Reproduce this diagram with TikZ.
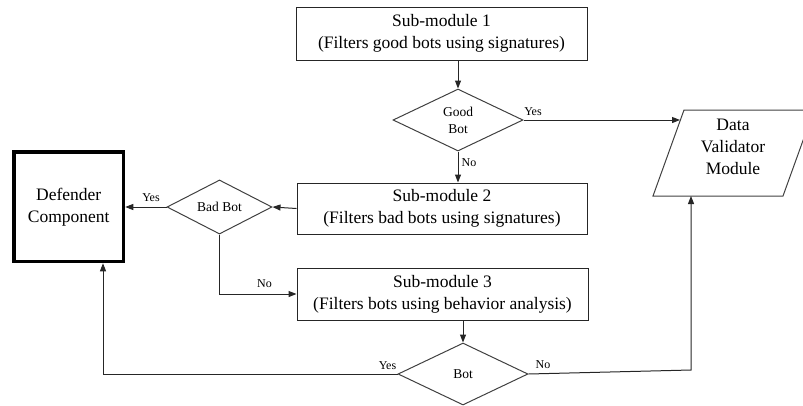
\documentclass[tikz,border=0pt]{standalone}
\usepackage{fontspec}
\setmainfont{Liberation Serif}
\usetikzlibrary{shapes.geometric,arrows.meta}
\begin{document}
\begin{tikzpicture}[x=1pt,y=-1pt,
  every node/.style={text=black},
  box/.style={draw=black!85,line width=1pt,inner sep=0pt,align=center,
    font=\fontsize{17.5}{22}\selectfont},
  dec/.style={draw=black!75,line width=1pt,shape=diamond,inner sep=0pt,align=center,
    font=\fontsize{13.5}{17}\selectfont},
  lbl/.style={inner sep=0pt,font=\fontsize{12}{14}\selectfont},
  arr/.style={draw=black!85,line width=1pt,-{Triangle[length=8pt,width=6pt]}},
  ln/.style={draw=black!85,line width=1pt}]
\useasboundingbox (0,0) rectangle (803,405);
\begin{scope}
\clip (0,0) rectangle (803,405);
% boxes
\node[box,minimum width=291,minimum height=53] (s1) at (441.5,33.5)
  {Sub-module 1\\(Filters good bots using signatures)};
\node[box,minimum width=290,minimum height=51] (s2) at (442,208.5)
  {Sub-module 2\\(Filters bad bots using signatures)};
\node[box,minimum width=291,minimum height=52] (s3) at (442.5,294)
  {Sub-module 3\\(Filters bots using behavior analysis)};
\node[box,line width=3.5pt,draw=black,minimum width=109.5,minimum height=109.5] (def) at (68.75,206.75)
  {Defender\\Component};
% decisions
\node[dec,minimum width=130,minimum height=62] (gb) at (458,120) {Good\\Bot};
\node[dec,minimum width=105,minimum height=48] (bb) at (219.5,207) {Bad Bot};
\node[dec,minimum width=130,minimum height=62] (bot) at (463,374) {Bot};
% data validator parallelogram
\draw[ln,draw=black!75] (684,110) -- (814,110) -- (783,196) -- (653,196) -- cycle;
\node[box,draw=none] (dv) at (733,147) {Data\\Validator\\Module};
\coordinate (dvin) at (680,120);
\coordinate (dvbot) at (691,196);
\coordinate (dy) at (103,374);
\coordinate (dno) at (691,370);
% connectors
\draw[arr] (gb.north |- s1.south) -- (gb.north);
\draw[arr] (gb.east) -- (dvin);
\draw[arr] (gb.south) -- (gb.south |- s2.north);
\draw[arr] (s2.west) -- (bb.east);
\draw[arr] (bb.west) -- (def.east |- bb.west);
\draw[arr] (bb.south) |- (s3.west);
\draw[arr] (bot.north |- s3.south) -- (bot.north);
\draw[arr] (bot.west) -- (dy) -- (dy |- def.south);
\draw[arr] (bot.east) -- (dno) -- (dvbot);
% labels
\node[lbl] (l1) at (533,112) {Yes};
\node[lbl] (l2) at (469,163) {No};
\node[lbl] (l3) at (151,198) {Yes};
\node[lbl] (l4) at (264.5,284) {No};
\node[lbl] (l5) at (387.5,366) {Yes};
\node[lbl] (l6) at (543,365) {No};
\end{scope}
\end{tikzpicture}
\end{document}
